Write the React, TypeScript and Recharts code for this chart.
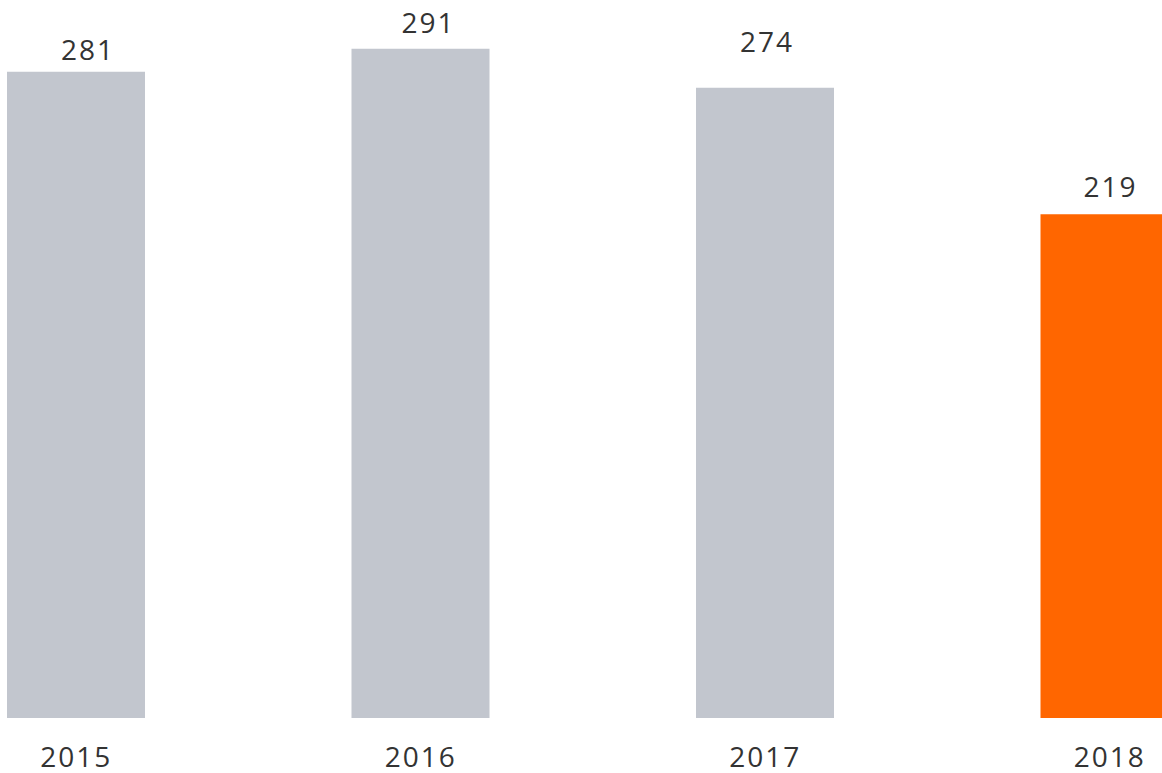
import { BarChart, Bar, XAxis, YAxis, Cell, LabelList } from "recharts";

const years = ["2015", "2016", "2017", "2018"];
const values = [281, 291, 274, 219];
const barColors = ["#C2C6CE", "#C2C6CE", "#C2C6CE", "#FF6600"];
// label nudges as placed in the original (px from bar top centre)
const labelDx = [12, 8, 2, 1];
const labelDy = [-12, -16, -36, -17];

const data = years.map((year, i) => ({ year, value: values[i] }));

const FONT = "'Open Sans', sans-serif";

function YearTick({ x, y, payload }: any) {
  return (
    <text
      x={x}
      y={y + 49}
      textAnchor="middle"
      fill="#333"
      fontFamily={FONT}
      fontSize={28}
      letterSpacing={2}
    >
      {payload.value}
    </text>
  );
}

function ValueLabel({ x, y, width, value, index }: any) {
  return (
    <text
      x={x + width / 2 + labelDx[index]}
      y={y + labelDy[index]}
      textAnchor="middle"
      fill="#333"
      fontFamily={FONT}
      fontSize={28}
      letterSpacing={2}
    >
      {value}
    </text>
  );
}

export default function App() {
  return (
    <div
      style={{
        position: "absolute",
        left: 0,
        top: 0,
        width: 1162,
        height: 773,
        overflow: "hidden",
        background: "#fff",
      }}
    >
      <div style={{ marginLeft: -96 }}>
        <BarChart
          width={1378}
          height={773}
          data={data}
          margin={{ top: 28, right: 0, bottom: 0, left: 0 }}
        >
          <XAxis
            dataKey="year"
            height={55}
            axisLine={false}
            tickLine={false}
            tickSize={0}
            tickMargin={0}
            interval={0}
            tick={<YearTick />}
          />
          <YAxis hide domain={[0, 300]} />
          <Bar dataKey="value" barSize={138} isAnimationActive={false}>
            {data.map((d, i) => (
              <Cell key={d.year} fill={barColors[i]} />
            ))}
            <LabelList dataKey="value" content={<ValueLabel />} />
          </Bar>
        </BarChart>
      </div>
    </div>
  );
}
